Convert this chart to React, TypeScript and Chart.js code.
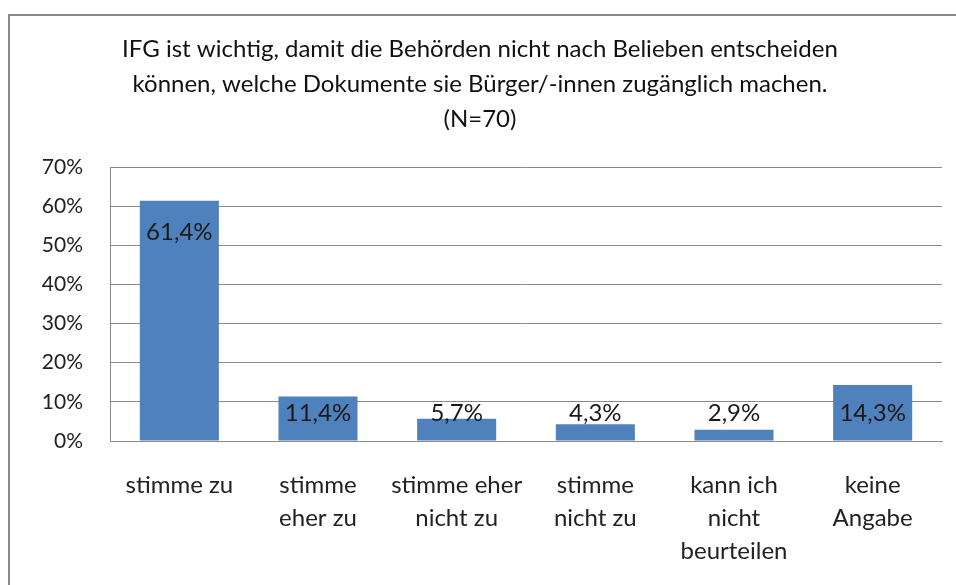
import React, { useEffect, useRef } from "react";
import { Chart, registerables } from "chart.js";

Chart.register(...registerables);

const titleLines = [
  "IFG ist wichtig, damit die Behörden nicht nach Belieben entscheiden",
  "können, welche Dokumente sie Bürger/-innen zugänglich machen.",
  "(N=70)",
];
const categories: string[][] = [
  ["stimme zu"],
  ["stimme", "eher zu"],
  ["stimme eher", "nicht zu"],
  ["stimme", "nicht zu"],
  ["kann ich", "nicht", "beurteilen"],
  ["keine", "Angabe"],
];
const values = [61.4, 11.4, 5.7, 4.3, 2.9, 14.3];
const yMax = 70;
const yStep = 10;

const FONT = "Lato, 'Open Sans', sans-serif";

const labelPlugin = {
  id: "barLabels",
  afterDatasetsDraw(chart: any) {
    const ctx = chart.ctx;
    const meta = chart.getDatasetMeta(0);
    ctx.save();
    ctx.font = `24px ${FONT}`;
    ctx.fillStyle = "#1a1a1a";
    ctx.textAlign = "center";
    ctx.textBaseline = "middle";
    meta.data.forEach((bar: any, i: number) => {
      const y = Math.min(bar.y + 32, bar.base - 27);
      ctx.fillText(values[i].toFixed(1).replace(".", ",") + "%", bar.x, y);
    });
    ctx.restore();
  },
};

export default function App() {
  const ref = useRef<HTMLCanvasElement>(null);
  useEffect(() => {
    const chart = new Chart(ref.current!, {
      type: "bar",
      data: {
        labels: categories,
        datasets: [
          {
            data: values,
            backgroundColor: "#4F81BD",
            categoryPercentage: 1,
            barPercentage: 0.57,
          },
        ],
      },
      options: {
        responsive: false,
        animation: false,
        layout: { padding: { left: 18, right: 14, top: 0, bottom: 0 } },
        plugins: {
          legend: { display: false },
          tooltip: { enabled: false },
          title: {
            display: true,
            text: titleLines,
            color: "#111",
            font: { family: FONT, size: 24, weight: "normal", lineHeight: 35 / 24 },
            padding: { top: 32, bottom: 30 },
          },
        },
        scales: {
          x: {
            grid: { display: false, drawTicks: false },
            border: { display: true, color: "#8a8a8a", width: 1 },
            ticks: {
              color: "#222",
              font: { family: FONT, size: 24, lineHeight: 33 / 24 },
              padding: 28,
              maxRotation: 0,
              autoSkip: false,
            },
            afterFit(scale: any) {
              scale.height = 144;
            },
          },
          y: {
            min: 0,
            max: yMax,
            grid: { color: "#8a8a8a", drawTicks: false },
            border: { display: true, color: "#8a8a8a", width: 1 },
            ticks: {
              stepSize: yStep,
              color: "#222",
              font: { family: FONT, size: 21 },
              padding: 27,
              callback: (v: any) => `${v}%`,
            },
            afterFit(scale: any) {
              scale.width = 92;
            },
          },
        },
      },
      plugins: [labelPlugin],
    });
    return () => chart.destroy();
  }, []);

  return (
    <div
      style={{
        position: "absolute",
        left: 0,
        top: 0,
        width: 956,
        height: 585,
        overflow: "hidden",
        background: "#fff",
      }}
    >
      <div
        style={{
          position: "absolute",
          left: 8,
          top: 14,
          width: 1200,
          height: 1200,
          borderLeft: "2px solid #898989",
          borderTop: "2px solid #898989",
        }}
      />
      <canvas
        ref={ref}
        width={956}
        height={585}
        style={{ position: "absolute", left: 0, top: 0 }}
      />
    </div>
  );
}
